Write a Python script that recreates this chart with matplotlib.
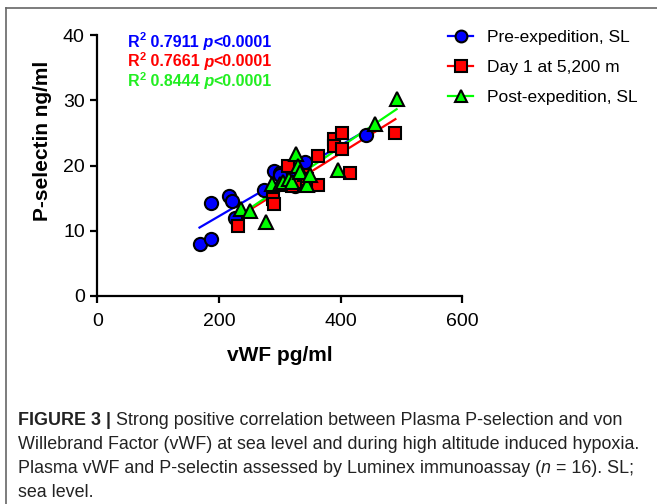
import numpy as np
import matplotlib
matplotlib.use("Agg")
import matplotlib.pyplot as plt
from matplotlib.lines import Line2D

# values (vWF pg/ml, P-selectin ng/ml)
pre_x = [168, 187, 187, 217, 221, 226, 274, 290, 300, 308, 318, 325, 340, 342, 442, 300]
pre_y = [7.9, 8.8, 14.2, 15.4, 14.6, 12.0, 16.2, 19.1, 18.8, 17.9, 18.7, 16.9, 19.1, 20.6, 24.6, 18.5]

day1_x = [232, 288, 290, 313, 320, 325, 340, 345, 362, 362, 389, 389, 403, 403, 415, 490]
day1_y = [10.7, 14.8, 14.1, 19.9, 16.8, 17.5, 18.5, 18.0, 21.5, 17.0, 24.1, 23.0, 25.0, 22.6, 18.9, 25.0]

post_x = [237, 251, 278, 287, 300, 305, 315, 320, 327, 330, 333, 345, 350, 396, 456, 492]
post_y = [13.4, 13.1, 11.4, 17.2, 17.2, 17.5, 18.0, 17.5, 21.8, 20.0, 19.0, 17.0, 18.5, 19.3, 26.3, 30.2]

labels = ['Pre-expedition, SL', 'Day 1 at 5,200 m', 'Post-expedition, SL']
r2_values = ['0.7911', '0.7661', '0.8444']
p_value = '<0.0001'

x_ticks = [0, 200, 400, 600]
y_ticks = [0, 10, 20, 30, 40]

caption_bold = 'FIGURE 3 |'
caption_lines = [
    ' Strong positive correlation between Plasma P-selection and von',
    'Willebrand Factor (vWF) at sea level and during high altitude induced hypoxia.',
    'Plasma vWF and P-selectin assessed by Luminex immunoassay (',
    'sea level.',
]

plt.rcParams['font.family'] = ['Liberation Sans', 'DejaVu Sans']

W, H = 657, 504
fig = plt.figure(figsize=(W / 100, H / 100), dpi=100)
ax = fig.add_axes([97.3 / W, 1 - 296 / H, 365 / W, 261 / H])

groups = [
    (pre_x, pre_y, 'o', '#0000ff', 9.5),
    (day1_x, day1_y, 's', '#ff0000', 9.0),
    (post_x, post_y, '^', '#00ff00', 9.5),
]

# regression lines under the markers
for xs, ys, m, c, ms in groups:
    xs = np.array(xs, float)
    ys = np.array(ys, float)
    k, b = np.polyfit(xs, ys, 1)
    xx = np.array([xs.min(), xs.max()])
    ax.plot(xx, k * xx + b, color=c, lw=1.6, zorder=2)

for i in [1, 2, 0]:
    xs, ys, m, c, ms = groups[i]
    ax.plot(xs, ys, ls='none', marker=m, ms=ms, mfc=c, mec='black', mew=1.5,
            zorder=3 + i, clip_on=False)

ax.set_xlim(0, 600)
ax.set_ylim(0, 40)
ax.set_xticks(x_ticks)
ax.set_yticks(y_ticks)
for s in ['top', 'right']:
    ax.spines[s].set_visible(False)
for s in ['left', 'bottom']:
    ax.spines[s].set_linewidth(1.6)
ax.tick_params(width=1.6, length=5, labelsize=14, pad=4)
ax.tick_params(axis='x', pad=7)
ax.set_xlabel('vWF pg/ml', fontsize=15, fontweight='bold')
ax.set_ylabel('P-selectin ng/ml', fontsize=15, fontweight='bold')
ax.xaxis.set_label_coords(0.5, -0.19)
ax.yaxis.set_label_coords(-0.125, 0.595)

# legend
handles = [Line2D([0], [0], color=c, lw=1.6, marker=m, ms=ms - 1, mfc=c, mec='black', mew=1.5)
           for _, _, m, c, ms in groups]
fig.legend(handles, labels, loc='upper left', bbox_to_anchor=(448 / W, 1 - 30 / H),
           frameon=False, fontsize=12.5, handlelength=1.45, handletextpad=0.8,
           labelspacing=0.84, borderaxespad=0, borderpad=0)

# R^2 annotations
text_colors = ['#0000ff', '#ff0000', '#22ee22']
for i, (r2, c) in enumerate(zip(r2_values, text_colors)):
    y = 1 - (47 + 19.5 * i) / H
    t = fig.text(128 / W, y, 'R', color=c, fontsize=11.5, fontweight='bold', va='baseline')
    sup = ax.annotate('2', xy=(1, 0.5), xycoords=t, color=c, fontsize=8,
                      fontweight='bold', va='bottom', ha='left')
    t2 = ax.annotate(' ' + r2, xy=(1, 0), xycoords=(sup, t), color=c, fontsize=11.5,
                     fontweight='bold', va='bottom', ha='left')
    t3 = ax.annotate(' p', xy=(1, 0), xycoords=t2, color=c, fontsize=11.5,
                     fontweight='bold', fontstyle='italic', va='bottom', ha='left')
    ax.annotate(p_value, xy=(1, 0), xycoords=t3, color=c, fontsize=11.5,
                fontweight='bold', va='bottom', ha='left')

# caption
cap = dict(fontsize=12.9, color='#222222')
base = [425, 449, 473, 497]
cb = fig.text(18 / W, 1 - base[0] / H, caption_bold, fontweight='bold', va='baseline', **cap)
ax.annotate(caption_lines[0], xy=(1, 0), xycoords=cb, va='bottom', ha='left', **cap)
fig.text(18 / W, 1 - base[1] / H, caption_lines[1], va='baseline', **cap)
c3 = fig.text(18 / W, 1 - base[2] / H, caption_lines[2], va='baseline', **cap)
c3n = ax.annotate('n', xy=(1, 0), xycoords=c3, fontstyle='italic', va='bottom', ha='left', **cap)
ax.annotate(' = 16). SL;', xy=(1, 0), xycoords=c3n, va='bottom', ha='left', **cap)
fig.text(18 / W, 1 - base[3] / H, caption_lines[3], va='baseline', **cap)

# panel frame (top and left edges)
fig.add_artist(Line2D([6 / W, 1], [1 - 8 / H, 1 - 8 / H], color='#666666', lw=1.2))
fig.add_artist(Line2D([6 / W, 6 / W], [0, 1 - 8 / H], color='#666666', lw=1.2))

fig.savefig('out.png', dpi=100)
